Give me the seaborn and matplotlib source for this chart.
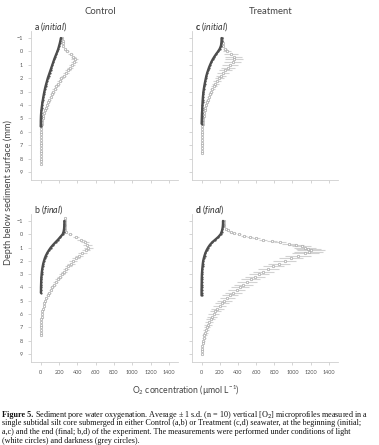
import numpy as np
import matplotlib
matplotlib.use('Agg')
import matplotlib.pyplot as plt
import seaborn as sns

sns.set_theme(style='ticks')
plt.rcParams['font.family'] = ['Lato', 'DejaVu Sans']
plt.rcParams['mathtext.fontset'] = 'custom'
plt.rcParams['mathtext.rm'] = 'Lato'
plt.rcParams['mathtext.it'] = 'Lato:italic'
plt.rcParams['mathtext.bf'] = 'Lato:bold'

# ── data: O2 (µmol/L), depth step 0.2 mm ────────────────────────────────
a_light = [235, 238, 242, 248, 262, 290, 330, 358, 370, 365, 345, 322, 298, 274, 250, 226,
           206, 188, 170, 152, 136, 122, 109, 96, 84, 72, 61, 50, 40, 30, 22, 15, 10, 6, 4, 3,
           2, 2, 2, 1, 1, 1, 1, 1, 1, 1, 1, 1]
a_sd = [6, 6, 7, 8, 12, 20, 28, 32, 34, 34, 33, 32, 31, 30, 29, 28, 27, 26, 25, 24, 22, 20,
        19, 18, 17, 16, 14, 12, 11, 10, 9, 8, 7, 6, 5, 4, 3, 3, 2, 2, 2, 2, 2, 1, 1, 1, 1, 1]
a_dark = [220, 215, 208, 200, 192, 182, 170, 158, 147, 137, 127, 117, 107, 97, 87, 77, 69,
          61, 53, 46, 40, 34, 29, 24, 19, 15, 11, 8, 5, 3, 2, 1, 1, 0]

b_light = [270, 270, 268, 267, 268, 275, 315, 385, 440, 480, 510, 520, 495, 455, 418, 386,
           356, 329, 303, 278, 253, 229, 207, 186, 165, 144, 124, 107, 91, 77, 63, 51, 41,
           32, 25, 19, 15, 11, 8, 6, 5, 4, 3, 3, 2]
b_sd = [4, 4, 4, 4, 5, 10, 22, 35, 42, 45, 47, 48, 47, 46, 45, 44, 42, 40, 38, 36, 34, 32,
        30, 28, 26, 24, 22, 20, 18, 16, 14, 12, 10, 9, 8, 7, 6, 5, 4, 4, 3, 3, 3, 2, 2]
b_dark = [258, 258, 257, 255, 250, 240, 215, 190, 162, 135, 110, 90, 72, 57, 45, 36, 28,
          22, 17, 13, 10, 8, 6, 5, 4, 3, 3, 2]

c_light = [228, 229, 232, 240, 258, 283, 322, 352, 358, 342, 315, 290, 263, 238, 215, 193,
           172, 152, 134, 117, 101, 89, 78, 67, 57, 47, 40, 34, 28, 23, 18, 14, 11, 8, 6, 4,
           3, 3, 2, 2, 2, 2, 2, 2]
c_sd = [5, 5, 6, 10, 22, 45, 75, 95, 100, 95, 88, 80, 72, 65, 58, 50, 44, 38, 33, 28, 24, 21,
        18, 16, 14, 12, 10, 9, 8, 7, 6, 5, 4, 4, 3, 3, 3, 2, 2, 2, 2, 2, 2, 2]
c_dark = [220, 220, 218, 212, 200, 182, 160, 140, 122, 107, 94, 82, 72, 62, 54, 47, 41, 35,
          30, 25, 21, 18, 15, 13, 11, 10, 8, 7, 5, 4, 3, 2, 1]

# panel d light is sampled at 0.1 mm through the steep upper branch
d_light_depth = [-1.0, -0.8, -0.6, -0.4, -0.3, -0.2, -0.1, 0.0, 0.1, 0.2, 0.3, 0.4, 0.5, 0.6,
                 0.7, 0.8, 0.9, 1.0, 1.1, 1.2, 1.3, 1.4, 1.6, 1.8, 2.0, 2.2, 2.4, 2.6, 2.8,
                 3.0, 3.2, 3.4, 3.6, 3.8, 4.0, 4.2, 4.4, 4.6, 4.8, 5.0, 5.2, 5.4, 5.6, 5.8,
                 6.0, 6.2, 6.4, 6.6, 6.8, 7.0, 7.2, 7.4, 7.6, 7.8, 8.0, 8.2, 8.4, 8.6, 8.8, 9.0]
d_light = [245, 248, 252, 265, 290, 320, 356, 410, 465, 530, 600, 680, 770, 860, 960, 1040,
           1100, 1140, 1175, 1205, 1180, 1140, 1060, 985, 915, 850, 790, 735, 680, 630, 585,
           540, 500, 460, 420, 385, 350, 315, 282, 252, 224, 198, 175, 153, 133, 115, 99, 84,
           71, 59, 48, 39, 31, 24, 18, 13, 9, 6, 3, 1]
d_sd = [8, 8, 10, 12, 15, 18, 20, 25, 30, 35, 40, 45, 55, 65, 75, 90, 105, 120, 140, 155, 160,
        150, 140, 132, 125, 120, 117, 115, 113, 111, 109, 107, 105, 102, 100, 96, 92, 88, 84,
        80, 76, 72, 68, 63, 58, 53, 48, 44, 40, 36, 32, 28, 24, 20, 16, 12, 9, 6, 4, 2]
d_dark = [236, 236, 234, 230, 222, 210, 185, 152, 118, 92, 72, 56, 43, 33, 25, 18, 14, 11, 8,
          6, 4, 3, 2, 2, 1, 1, 0, 0, 0]

x_ticks = [0, 200, 400, 600, 800, 1000, 1200, 1400]
y_ticks = [-1, 0, 1, 2, 3, 4, 5, 6, 7, 8, 9]


def grid(start, n):
    return np.round(start + 0.2 * np.arange(n), 1)


panels = {
    'a': dict(light=a_light, sd=a_sd, ld=grid(-1.0, len(a_light)), dark=a_dark,
              tag='initial', bold=False, pos=[0.082, 0.5955, 0.388, 0.334]),
    'b': dict(light=b_light, sd=b_sd, ld=grid(-1.2, len(b_light)), dark=b_dark,
              tag='final', bold=False, pos=[0.082, 0.1865, 0.388, 0.332]),
    'c': dict(light=c_light, sd=c_sd, ld=grid(-1.0, len(c_light)), dark=c_dark,
              tag='initial', bold=True, pos=[0.5066, 0.5955, 0.385, 0.334]),
    'd': dict(light=d_light, sd=d_sd, ld=np.array(d_light_depth), dark=d_dark,
              tag='final', bold=True, pos=[0.5066, 0.1865, 0.385, 0.332]),
}

fig = plt.figure(figsize=(3.79, 4.45), dpi=100)

for key, p in panels.items():
    ax = fig.add_axes(p['pos'])
    dd = grid(-1.0, len(p['dark']))
    ax.errorbar(p['light'], p['ld'], xerr=p['sd'], fmt='none', ecolor='#d2d2d2',
                elinewidth=0.8, capsize=0, zorder=1)
    sns.lineplot(x=p['dark'], y=dd, orient='y', sort=False, ax=ax, color='#4d4d4d',
                 lw=1.7, marker='o', markersize=1.6, markeredgewidth=0,
                 legend=False, zorder=3)
    sns.scatterplot(x=p['light'], y=p['ld'], ax=ax, s=3.2, marker='o', facecolor='white',
                    edgecolor='#a0a0a0', linewidth=0.45, legend=False, zorder=2)
    ax.set_xlim(-105, 1500)
    ax.set_ylim(9.6, -1.5)
    ax.set_xticks(x_ticks)
    ax.set_yticks(y_ticks)
    ax.set_xlabel('')
    ax.set_ylabel('')
    ax.tick_params(axis='both', direction='out', length=2.5, width=0.5, color='#c4c4c4',
                   labelsize=4, labelcolor='#555555', pad=3.5)
    if key in 'ac':
        ax.set_xticklabels([])
    if key in 'cd':
        ax.set_yticklabels([])
    sns.despine(ax=ax)
    for s in ('left', 'bottom'):
        ax.spines[s].set_color('#cfcfcf')
        ax.spines[s].set_linewidth(0.6)
    letter = r'\mathbf{%s}' % key if p['bold'] else r'\mathrm{%s}' % key
    ax.text(0.02, 1.035, r'$%s\ (\mathit{%s})$' % (letter, p['tag']),
            transform=ax.transAxes, ha='left', va='center', fontsize=6.3, color='#333333')

fig.text(0.264, 0.975, 'Control', ha='center', va='center', fontsize=6.8, color='#444444')
fig.text(0.715, 0.975, 'Treatment', ha='center', va='center', fontsize=6.8, color='#444444')
fig.text(0.021, 0.568, 'Depth below sediment surface (mm)', rotation=90, ha='center',
         va='center', fontsize=6.6, color='#444444')
fig.text(0.49, 0.121, 'O$_2$ concentration (µmol L$^{-1}$)', ha='center', va='center',
         fontsize=6.2, color='#444444')

# ── caption ─────────────────────────────────────────────────────────────
cap = [
    'Sediment pore water oxygenation. Average ± 1 s.d. (n = 10) vertical [O$_2$] '
    'microprofiles measured in a',
    'single subtidal silt core submerged in either Control (a,b) or Treatment (c,d) seawater, '
    'at the beginning (initial;',
    'a,c) and the end (final; b,d) of the experiment. The measurements were performed under '
    'conditions of light',
    '(white circles) and darkness (grey circles).',
]
cap_y = [0.068, 0.049, 0.029, 0.010]
serif = ['Liberation Serif', 'DejaVu Serif']
fs = 5.85
head = fig.text(0.005, cap_y[0], 'Figure 5.', fontsize=fs, fontweight='bold',
                family=serif, va='center', ha='left', color='#111111')
fig.canvas.draw()
bb = head.get_window_extent(fig.canvas.get_renderer())
x0 = bb.x1 / fig.bbox.width + 0.006
fig.text(x0, cap_y[0], cap[0], fontsize=fs, family=serif, va='center', ha='left',
         color='#111111')
for line, y in zip(cap[1:], cap_y[1:]):
    fig.text(0.005, y, line, fontsize=fs, family=serif, va='center', ha='left',
             color='#111111')

fig.savefig('out.png', dpi=100)
